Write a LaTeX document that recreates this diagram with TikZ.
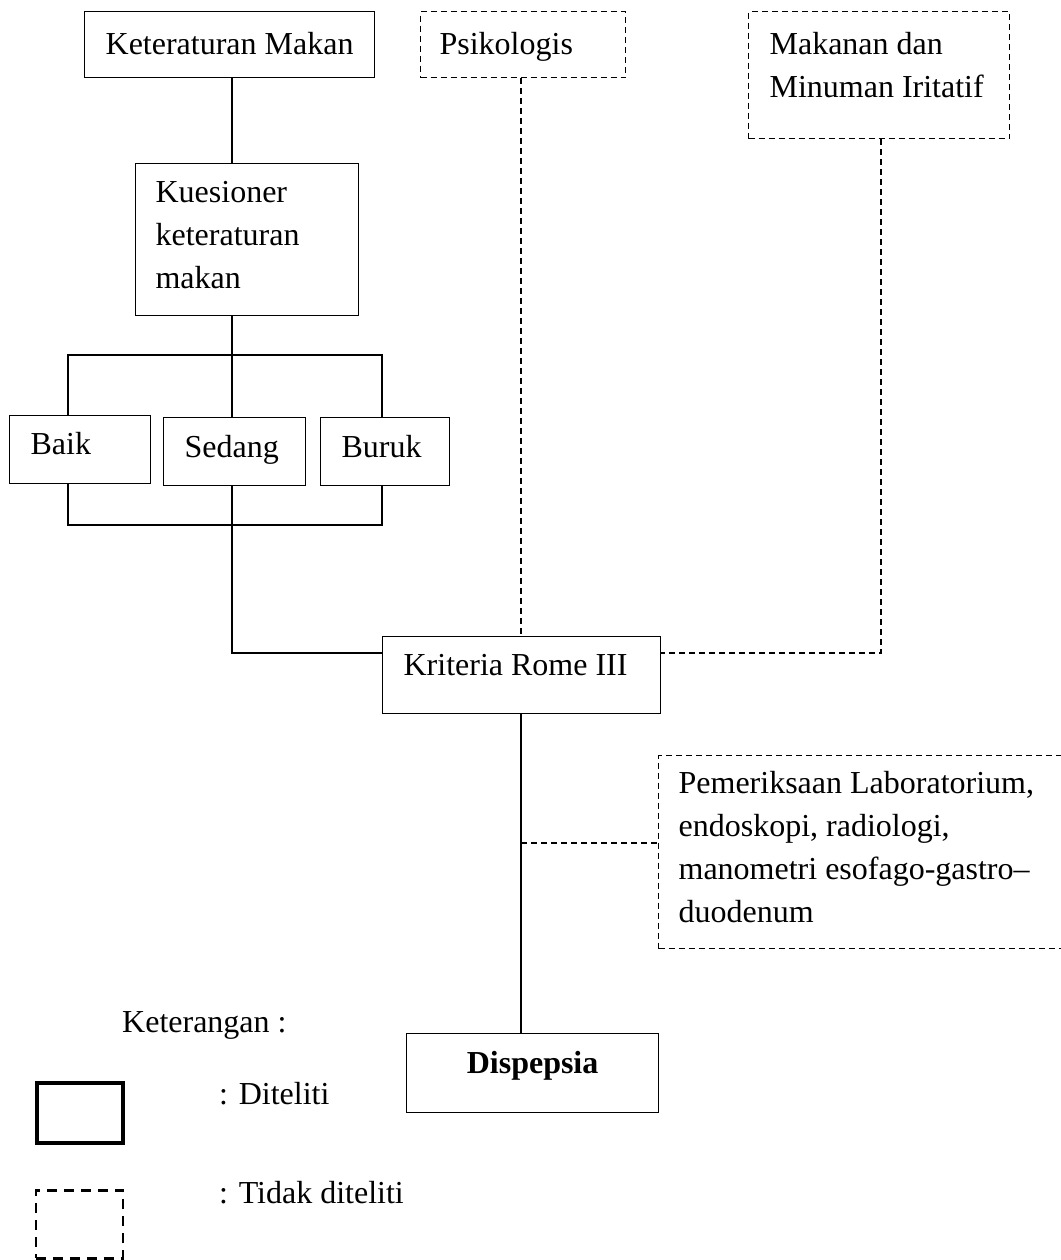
\documentclass[tikz,border=0pt]{standalone}
\usepackage{fontspec}
\setmainfont{Liberation Serif}
\newcommand{\bxc}[4]{\parbox[b][#2][t]{#1}{\centering\vspace*{#3}\rule{0pt}{28pt}#4}}
\newcommand{\bxl}[5]{\parbox[b][#2][t]{#1}{\raggedright\leftskip=#3\relax\vspace*{#4}\rule{0pt}{28pt}#5}}
\begin{document}
\begin{tikzpicture}[x=1pt,y=-1pt,
  font=\fontsize{32}{43}\selectfont,
  solidbox/.style={draw, line width=1.2pt, inner sep=0pt, anchor=north west},
  dashbox/.style={draw, line width=1.2pt, dash pattern=on 6pt off 4pt, inner sep=0pt, anchor=north west},
  conn/.style={line width=1.6pt},
  dconn/.style={line width=1.2pt, dash pattern=on 6pt off 4pt},
  lbl/.style={anchor=base west, inner sep=0pt}]
\useasboundingbox (0,0) rectangle (1060,1260);
% boxes
\node[solidbox] (km) at (84,11) {\bxc{290pt}{66pt}{15pt}{Keteraturan Makan}};
\node[dashbox] (psi) at (420,11) {\bxl{205pt}{66pt}{19pt}{15pt}{Psikologis}};
\node[dashbox] (mak) at (748,11) {\bxl{261pt}{127pt}{21pt}{15pt}{Makanan dan\\Minuman Iritatif}};
\node[solidbox] (kue) at (135,163) {\bxl{223pt}{152pt}{20pt}{11pt}{Kuesioner\\keteraturan\\makan}};
\node[solidbox] (baik) at (9,415) {\bxl{141pt}{68pt}{21pt}{11pt}{Baik}};
\node[solidbox] (sed) at (163,417) {\bxl{142pt}{68pt}{21pt}{12pt}{Sedang}};
\node[solidbox] (bur) at (320,417) {\bxl{129pt}{68pt}{21pt}{12pt}{Buruk}};
\node[solidbox] (kri) at (382,636) {\bxl{278pt}{77pt}{21pt}{11pt}{Kriteria Rome III}};
\node[dashbox] (lab) at (658,755) {\bxl{420pt}{193pt}{20pt}{10pt}{Pemeriksaan Laboratorium,\\endoskopi, radiologi,\\manometri esofago-gastro–\\duodenum}};
\node[solidbox] (dis) at (406,1033) {\bxc{252pt}{79pt}{12pt}{\bfseries Dispepsia}};
% legend
\node[lbl] (ket) at (122,1032) {Keterangan :};
\node[draw, line width=3.6pt, minimum width=86pt, minimum height=60pt, inner sep=0pt, anchor=north west] (lg1) at (35,1081) {};
\node[draw, line width=2.6pt, dash pattern=on 10pt off 7pt, minimum width=87pt, minimum height=68pt, inner sep=0pt, anchor=north west] (lg2) at (34.5,1189) {};
\node[lbl] (t1) at (219,1104) {: Diteliti};
\node[lbl] (t2) at (219,1203) {: Tidak diteliti};
% junctions
\coordinate (jt) at (232,355);
\coordinate (jl) at (68,355);
\coordinate (jr) at (382,355);
\coordinate (bt) at (232,525);
\coordinate (bl) at (68,525);
\coordinate (br) at (382,525);
\coordinate (jk) at (232,653);
\coordinate (mk) at (881,653);
\coordinate (lb) at (521,843);
% connectors
\draw[conn] (km.south -| jt) -- (kue.north -| jt);
\draw[conn] (kue.south -| jt) -- (jt);
\draw[conn] (baik.north -| jl) -- (jl) -- (jr) -- (bur.north -| jr);
\draw[conn] (jt) -- (sed.north -| jt);
\draw[conn] (baik.south -| bl) -- (bl) -- (br) -- (bur.south -| br);
\draw[conn] (sed.south -| bt) -- (bt) -- (jk) -- (kri.west |- jk);
\draw[dconn] (psi.south -| lb) -- (kri.north -| lb);
\draw[dconn] (mak.south -| mk) -- (mk) -- (kri.east |- mk);
\draw[conn] (kri.south -| lb) -- (dis.north -| lb);
\draw[dconn] (lb) -- (lab.west |- lb);
\end{tikzpicture}
\end{document}
